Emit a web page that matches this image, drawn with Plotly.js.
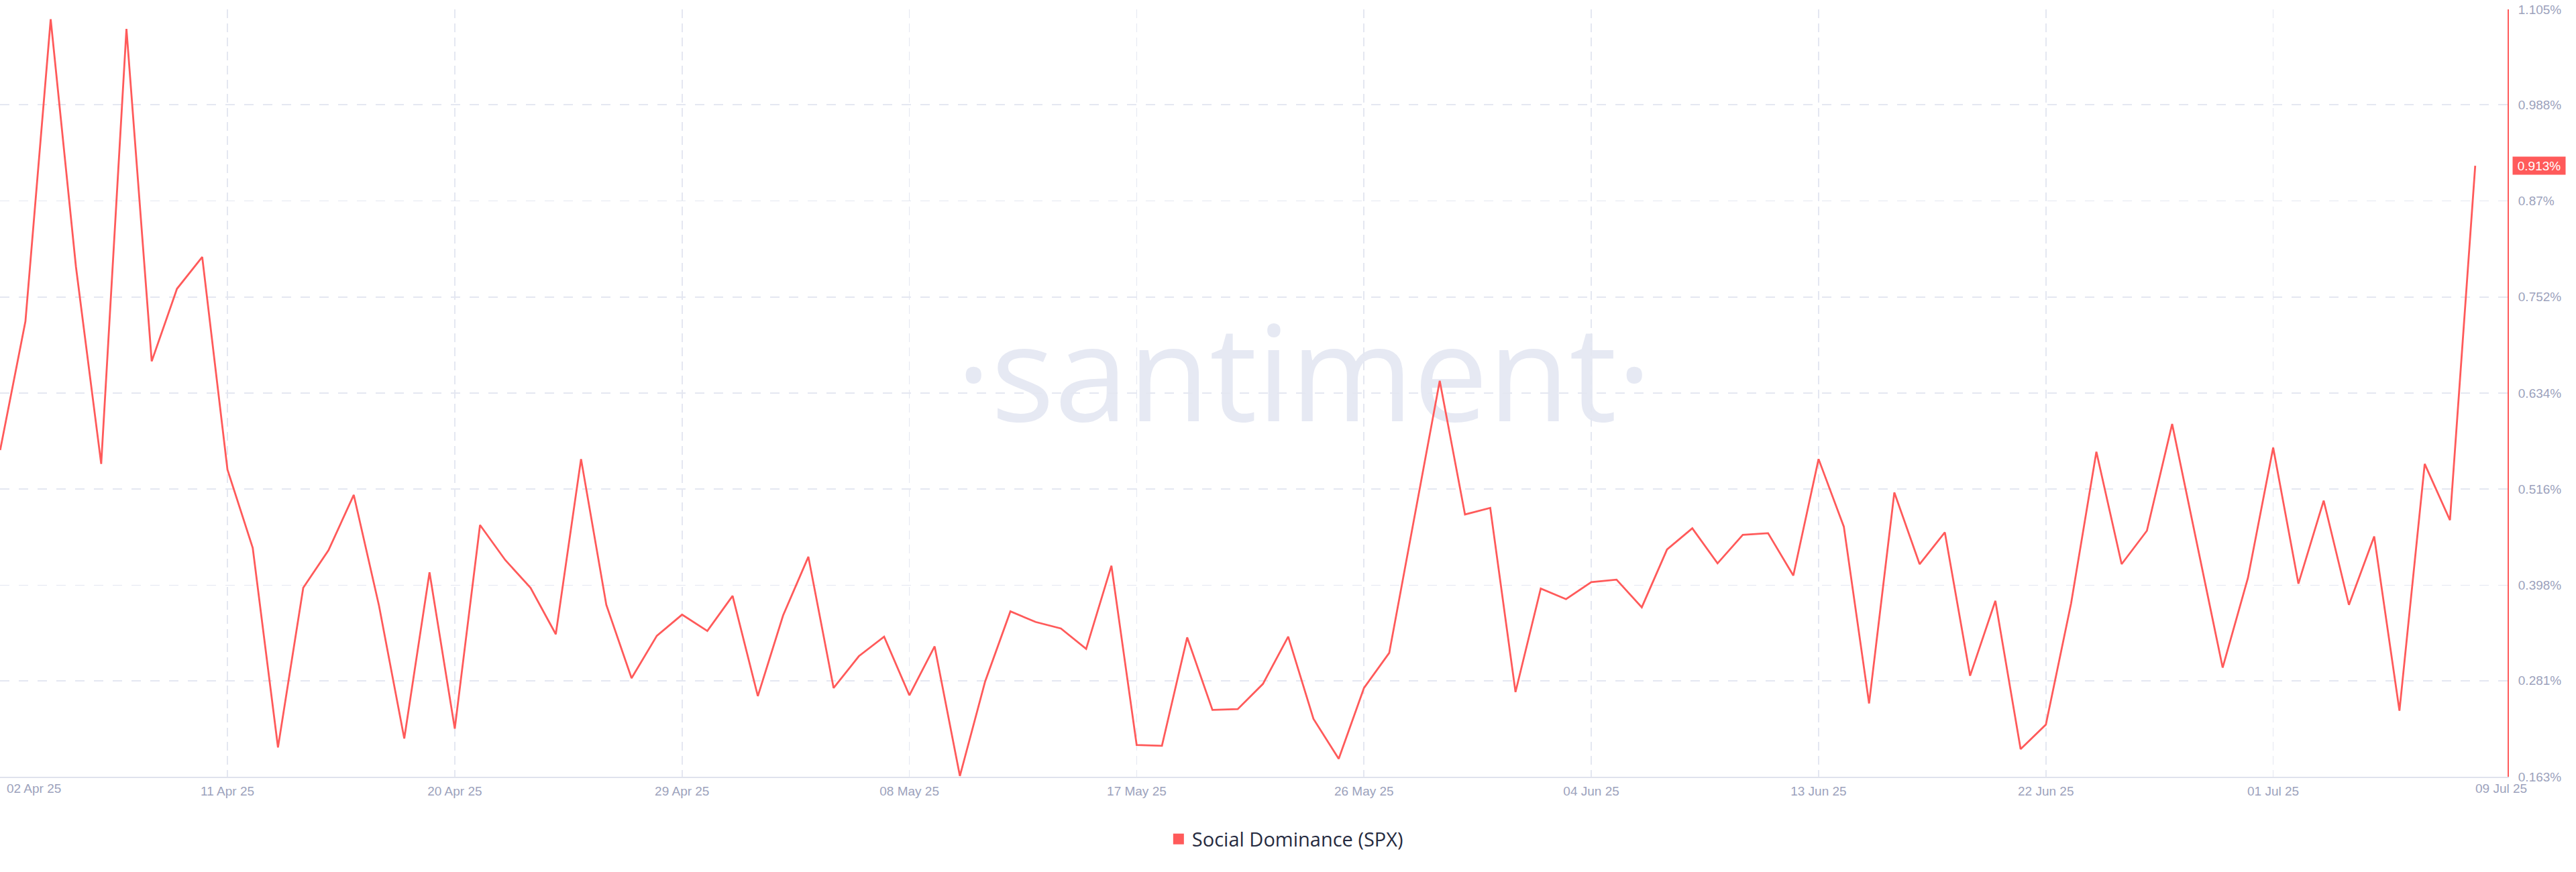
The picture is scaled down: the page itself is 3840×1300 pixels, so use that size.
<!DOCTYPE html>
<html>
<head>
<meta charset="utf-8">
<script src="https://cdn.plot.ly/plotly-3.0.1.min.js"></script>
<style>
  html, body { margin: 0; padding: 0; background: #ffffff; }
  #chart { width: 3840px; height: 1300px; }
</style>
</head>
<body>
<div id="chart"></div>
<script>
// ---- Data ----
const dates = [
  '2025-04-02','2025-04-03','2025-04-04','2025-04-05','2025-04-06','2025-04-07','2025-04-08','2025-04-09','2025-04-10',
  '2025-04-11','2025-04-12','2025-04-13','2025-04-14','2025-04-15','2025-04-16','2025-04-17','2025-04-18','2025-04-19',
  '2025-04-20','2025-04-21','2025-04-22','2025-04-23','2025-04-24','2025-04-25','2025-04-26','2025-04-27','2025-04-28',
  '2025-04-29','2025-04-30','2025-05-01','2025-05-02','2025-05-03','2025-05-04','2025-05-05','2025-05-06','2025-05-07',
  '2025-05-08','2025-05-09','2025-05-10','2025-05-11','2025-05-12','2025-05-13','2025-05-14','2025-05-15','2025-05-16',
  '2025-05-17','2025-05-18','2025-05-19','2025-05-20','2025-05-21','2025-05-22','2025-05-23','2025-05-24','2025-05-25',
  '2025-05-26','2025-05-27','2025-05-28','2025-05-29','2025-05-30','2025-05-31','2025-06-01','2025-06-02','2025-06-03',
  '2025-06-04','2025-06-05','2025-06-06','2025-06-07','2025-06-08','2025-06-09','2025-06-10','2025-06-11','2025-06-12',
  '2025-06-13','2025-06-14','2025-06-15','2025-06-16','2025-06-17','2025-06-18','2025-06-19','2025-06-20','2025-06-21',
  '2025-06-22','2025-06-23','2025-06-24','2025-06-25','2025-06-26','2025-06-27','2025-06-28','2025-06-29','2025-06-30',
  '2025-07-01','2025-07-02','2025-07-03','2025-07-04','2025-07-05','2025-07-06','2025-07-07','2025-07-08','2025-07-09'
];

const socialDominance = [
  0.564, 0.722, 1.093, 0.789, 0.547, 1.081, 0.673, 0.762, 0.801,
  0.540, 0.444, 0.199, 0.395, 0.441, 0.509, 0.373, 0.210, 0.414,
  0.222, 0.472, 0.429, 0.395, 0.338, 0.553, 0.374, 0.284, 0.336,
  0.362, 0.342, 0.385, 0.262, 0.361, 0.433, 0.272, 0.311, 0.335,
  0.263, 0.323, 0.164, 0.280, 0.366, 0.353, 0.345, 0.320, 0.422,
  0.202, 0.201, 0.334, 0.245, 0.246, 0.277, 0.335, 0.234, 0.185,
  0.272, 0.315, 0.482, 0.649, 0.485, 0.493, 0.267, 0.394, 0.381,
  0.402, 0.405, 0.371, 0.442, 0.468, 0.425, 0.460, 0.462, 0.410,
  0.553, 0.470, 0.253, 0.512, 0.424, 0.463, 0.287, 0.379, 0.197,
  0.227, 0.376, 0.562, 0.424, 0.465, 0.596, 0.445, 0.297, 0.407,
  0.567, 0.400, 0.502, 0.374, 0.458, 0.244, 0.547, 0.478, 0.913
];

const yTickVals = [0.163, 0.281, 0.398, 0.516, 0.634, 0.752, 0.87, 0.988, 1.105];
const yTickText = ['0.163%', '0.281%', '0.398%', '0.516%', '0.634%', '0.752%', '0.87%', '0.988%', '1.105%'];

const xTickVals = ['2025-04-02', '2025-04-11', '2025-04-20', '2025-04-29', '2025-05-08', '2025-05-17',
                   '2025-05-26', '2025-06-04', '2025-06-13', '2025-06-22', '2025-07-01'];
const xTickText = ['', '11 Apr 25', '20 Apr 25', '29 Apr 25', '08 May 25', '17 May 25',
                   '26 May 25', '04 Jun 25', '13 Jun 25', '22 Jun 25', '01 Jul 25'];
const firstDateLabel = '02 Apr 25';
const lastDateLabel = '09 Jul 25';
const seriesName = 'Social Dominance (SPX)';
const watermarkText = '·santiment·';

// ---- Styling ----
const RED = '#FF5A5A';
const TICK_GRAY = '#9CA2BC';
const GRID = '#E4E7F1';
const tickFont = { family: 'Liberation Sans, Arial, sans-serif', size: 19, color: TICK_GRAY };

const lastVal = socialDominance[socialDominance.length - 1];
const lastDate = dates[dates.length - 1];

const traces = [
  {
    type: 'scatter',
    mode: 'lines',
    x: dates,
    y: socialDominance,
    line: { color: RED, width: 2.8 },
    showlegend: false,
    hoverinfo: 'skip'
  },
  {
    type: 'scatter',
    mode: 'markers',
    x: [null],
    y: [null],
    name: seriesName,
    marker: { symbol: 'square', color: RED, size: 18 },
    showlegend: true,
    hoverinfo: 'skip'
  }
];

const layout = {
  width: 3840,
  height: 1300,
  paper_bgcolor: '#ffffff',
  plot_bgcolor: '#ffffff',
  margin: { l: 0, r: 102, t: 14, b: 142, pad: 0 },
  showlegend: true,
  legend: {
    orientation: 'h',
    xref: 'container', yref: 'container',
    x: 0.4523, xanchor: 'left',
    y: 0.0377, yanchor: 'middle',
    font: { family: 'Open Sans, sans-serif', size: 29, color: '#262B3F' },
    bgcolor: 'rgba(0,0,0,0)'
  },
  xaxis: {
    type: 'date',
    range: ['2025-04-01 23:50', '2025-07-10 06:45'],
    tickmode: 'array',
    tickvals: xTickVals,
    ticktext: xTickText,
    showgrid: true,
    gridcolor: GRID,
    gridwidth: 1.6,
    griddash: '13px,8px',
    showline: true,
    linecolor: '#DFE2ED',
    linewidth: 1.6,
    zeroline: false,
    ticks: '',
    ticklabelstandoff: 4,
    tickfont: tickFont,
    automargin: false,
    fixedrange: true
  },
  yaxis: {
    side: 'right',
    range: [0.163, 1.105],
    tickmode: 'array',
    tickvals: yTickVals,
    ticktext: yTickText,
    showgrid: true,
    gridcolor: GRID,
    gridwidth: 1.6,
    griddash: '14px,14px',
    showline: true,
    linecolor: RED,
    linewidth: 2,
    zeroline: false,
    ticks: '',
    ticklabelstandoff: 10,
    tickfont: tickFont,
    automargin: false,
    fixedrange: true
  },
  shapes: [
    {
      type: 'rect',
      layer: 'below',
      xref: 'paper', yref: 'paper',
      x0: 0.40, x1: 0.64, y0: 0.418, y1: 0.618,
      line: { width: 0 },
      fillcolor: 'rgba(0,0,0,0)',
      label: {
        text: watermarkText,
        textposition: 'middle center',
        font: { family: 'Open Sans, sans-serif', size: 198, color: '#E6E9F3' }
      }
    }
  ],
  annotations: [
    {
      xref: 'paper', yref: 'y',
      x: 1, y: lastVal,
      xanchor: 'left', yanchor: 'middle',
      xshift: 7,
      text: lastVal.toFixed(3) + '%',
      showarrow: false,
      bgcolor: RED,
      width: 76, height: 24,
      borderpad: 1,
      font: { family: 'Liberation Sans, Arial, sans-serif', size: 19, color: '#ffffff' }
    },
    {
      xref: 'x', yref: 'paper',
      x: dates[0], y: 0,
      xanchor: 'left', yanchor: 'middle',
      xshift: 8, yshift: -17,
      text: firstDateLabel,
      showarrow: false,
      font: tickFont
    },
    {
      xref: 'x', yref: 'paper',
      x: lastDate, y: 0,
      xanchor: 'left', yanchor: 'middle',
      xshift: -2, yshift: -17,
      text: lastDateLabel,
      showarrow: false,
      font: tickFont
    }
  ]
};

Plotly.newPlot('chart', traces, layout, { displayModeBar: false, staticPlot: true });
</script>
</body>
</html>
